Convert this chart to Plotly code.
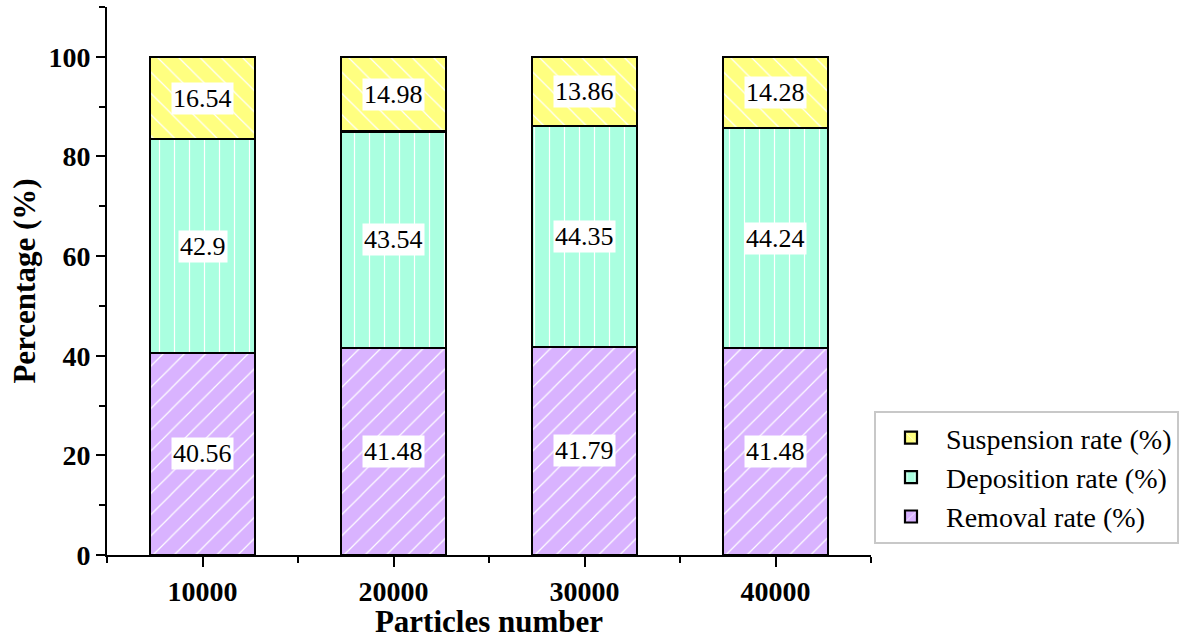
import plotly.graph_objects as go

particles = [10000, 20000, 30000, 40000]
removal = [40.56, 41.48, 41.79, 41.48]
deposition = [42.9, 43.54, 44.35, 44.24]
suspension = [16.54, 14.98, 13.86, 14.28]

series = [
    ("Removal rate (%)", removal, "#D9B3FF", "/"),
    ("Deposition rate (%)", deposition, "#AAFFE0", "|"),
    ("Suspension rate (%)", suspension, "#FFFF80", "\\"),
]

SERIF = "Liberation Serif, Times New Roman, serif"

fig = go.Figure()
for name, vals, color, shape in series:
    fig.add_trace(go.Bar(
        x=particles, y=vals, name=name, width=5500,
        marker=dict(color=color, line=dict(color="black", width=2.2),
                    pattern=dict(shape=shape, fgcolor="white", bgcolor=color, size=15,
                                 solidity=0.08, fillmode="replace")),
    ))

# centred value labels with white boxes
base = [0.0] * len(particles)
for name, vals, color, shape in series:
    for xv, b, v in zip(particles, base, vals):
        fig.add_annotation(x=xv, y=b + v / 2, text=f"{v:g}", showarrow=False,
                           bgcolor="white", borderpad=1,
                           font=dict(family=SERIF, size=26, color="black"))
    base = [b + v for b, v in zip(base, vals)]

fig.update_layout(
    barmode="stack",
    width=1179, height=639,
    margin=dict(l=107, r=308, t=7, b=84),
    plot_bgcolor="white", paper_bgcolor="white",
    showlegend=True,
    legend=dict(traceorder="reversed", xref="container", yref="container",
                x=0.7413, y=0.2527, xanchor="left", yanchor="middle",
                bordercolor="#c8c8c8", borderwidth=2, bgcolor="white",
                font=dict(family=SERIF, size=28, color="black"),
                itemwidth=60, tracegroupgap=0),
    xaxis=dict(range=[5000, 45000], tickvals=particles, tickformat="d", automargin=False,
               showline=True, linecolor="black", linewidth=2,
               ticks="outside", ticklen=10, tickwidth=2, tickcolor="black",
               tickfont=dict(family=SERIF, size=28, color="black", weight="bold"),
               showgrid=False, zeroline=False,
               minor=dict(tickvals=[5000, 15000, 25000, 35000, 45000], ticks="outside",
                          ticklen=6, tickwidth=2, tickcolor="black"),
               title=dict(text="Particles number", standoff=0,
                          font=dict(family=SERIF, size=31, color="black", weight="bold"))),
    yaxis=dict(range=[0, 110], tickvals=[0, 20, 40, 60, 80, 100], automargin=False,
               showline=True, linecolor="black", linewidth=2,
               ticks="outside", ticklen=9, tickwidth=2, tickcolor="black",
               tickfont=dict(family=SERIF, size=28, color="black", weight="bold"),
               showgrid=False, zeroline=False,
               minor=dict(tickvals=[10, 30, 50, 70, 90, 110], ticks="outside",
                          ticklen=6, tickwidth=2, tickcolor="black"),
               title=dict(text="Percentage (%)", standoff=4,
                          font=dict(family=SERIF, size=31, color="black", weight="bold"))),
)

fig.write_html("out.html", config={"displayModeBar": False},
               post_script="document.body.style.margin='0';document.body.style.padding='0';")
